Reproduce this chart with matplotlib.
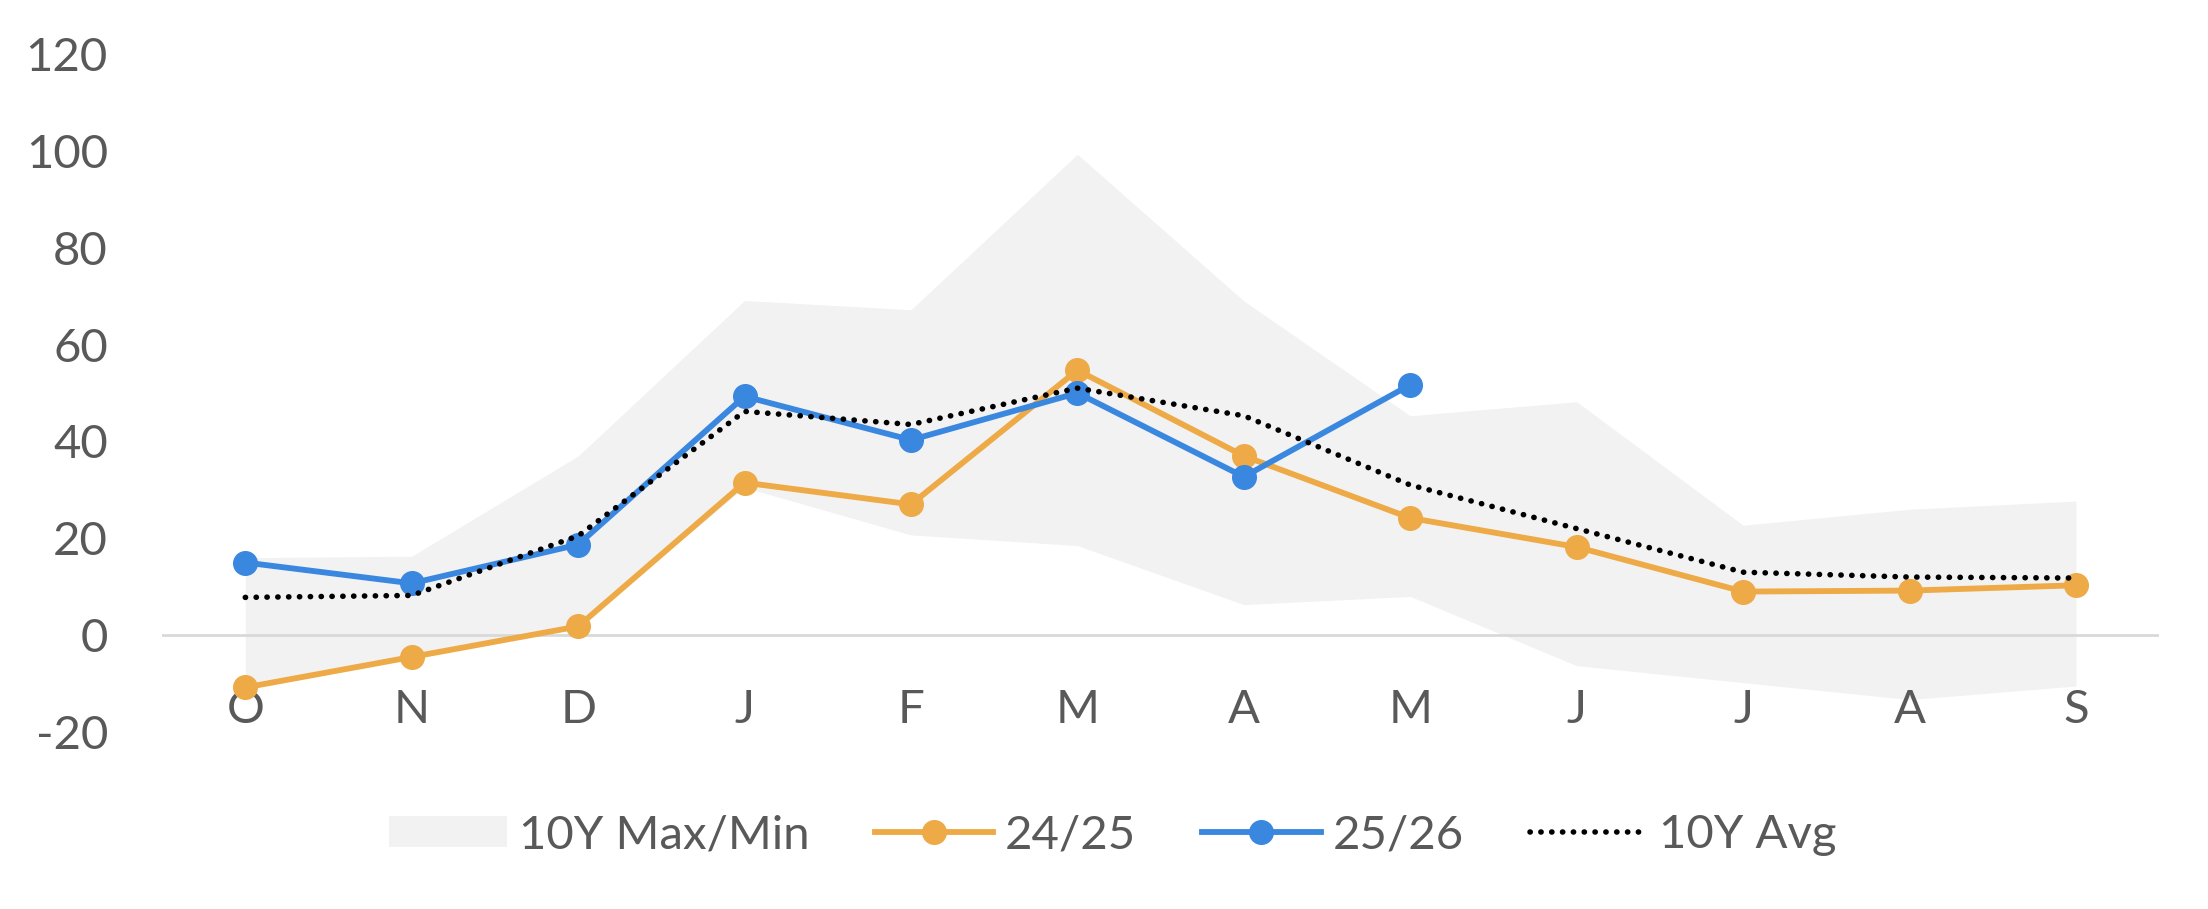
import matplotlib
matplotlib.use("Agg")
import matplotlib.pyplot as plt
from matplotlib.patches import Patch
from matplotlib.lines import Line2D

plt.rcParams["font.family"] = ["Lato", "DejaVu Sans"]
plt.rcParams["axes.unicode_minus"] = False

months = ["O", "N", "D", "J", "F", "M", "A", "M", "J", "J", "A", "S"]
band_max = [16, 16.3, 37, 69.1, 67.2, 99.3, 69, 45.3, 48.2, 22.7, 26, 27.7]
band_min = [-10.8, -4.5, 1.8, 30.5, 20.7, 18.5, 6.3, 8, -6.3, -9.8, -13.3, -10.5]
s2425 = [-10.8, -4.5, 1.8, 31.5, 27, 54.7, 37, 24.2, 18.2, 9, 9.2, 10.3]
s2526 = [15, 10.7, 18.7, 49.3, 40.3, 50, 32.7, 51.7]
avg10 = [7.8, 8.2, 20.5, 46.2, 43.5, 51, 45.3, 31, 22, 13, 12, 11.8]

ORANGE = "#EDAA46"
BLUE = "#3A87E0"
BAND = "#F2F2F2"
TEXT = "#595959"
FS = 34
LW = 4.2
MS = 17
DOTS = (0, (0.05, 1.9))

x = list(range(len(months)))

fig = plt.figure(figsize=(22.08, 9.09), dpi=100)
ax = fig.add_axes([0.0734, 0.1947, 0.9045, 0.7459])

ax.fill_between(x, band_min, band_max, color=BAND, linewidth=0, zorder=1)
ax.axhline(0, color="#D9D9D9", linewidth=2, zorder=2)
ax.plot(x, s2425, color=ORANGE, linewidth=LW, marker="o", markersize=MS,
        zorder=3)
ax.plot(x[:len(s2526)], s2526, color=BLUE, linewidth=LW, marker="o",
        markersize=MS, zorder=4)
ax.plot(x, avg10, color="black", linewidth=4, linestyle=DOTS,
        dash_capstyle="round", zorder=5)

ax.set_xlim(-0.5, 11.5)
ax.set_ylim(-20, 120)
ax.set_yticks(range(-20, 121, 20))
ax.set_xticks(x)
ax.set_xticklabels(months)
for s in ax.spines.values():
    s.set_visible(False)
ax.tick_params(axis="y", length=0, pad=39, labelsize=FS, labelcolor=TEXT)
ax.tick_params(axis="x", length=0, pad=-31, labelsize=FS, labelcolor=TEXT)

handles = [
    Patch(facecolor=BAND, edgecolor="none"),
    Line2D([], [], color=ORANGE, linewidth=LW, marker="o", markersize=MS),
    Line2D([], [], color=BLUE, linewidth=LW, marker="o", markersize=MS),
    Line2D([], [], color="black", linewidth=4, linestyle=DOTS,
           dash_capstyle="round"),
]
labels = ["10Y Max/Min", "24/25", "25/26", "10Y Avg"]
fig.legend(handles, labels, loc="center", bbox_to_anchor=(0.504, 0.081),
           ncol=4, frameon=False, fontsize=FS, labelcolor=TEXT,
           handlelength=2.5, handleheight=0.62, handletextpad=0.25,
           columnspacing=1.4)

fig.savefig("out.png", dpi=100)
